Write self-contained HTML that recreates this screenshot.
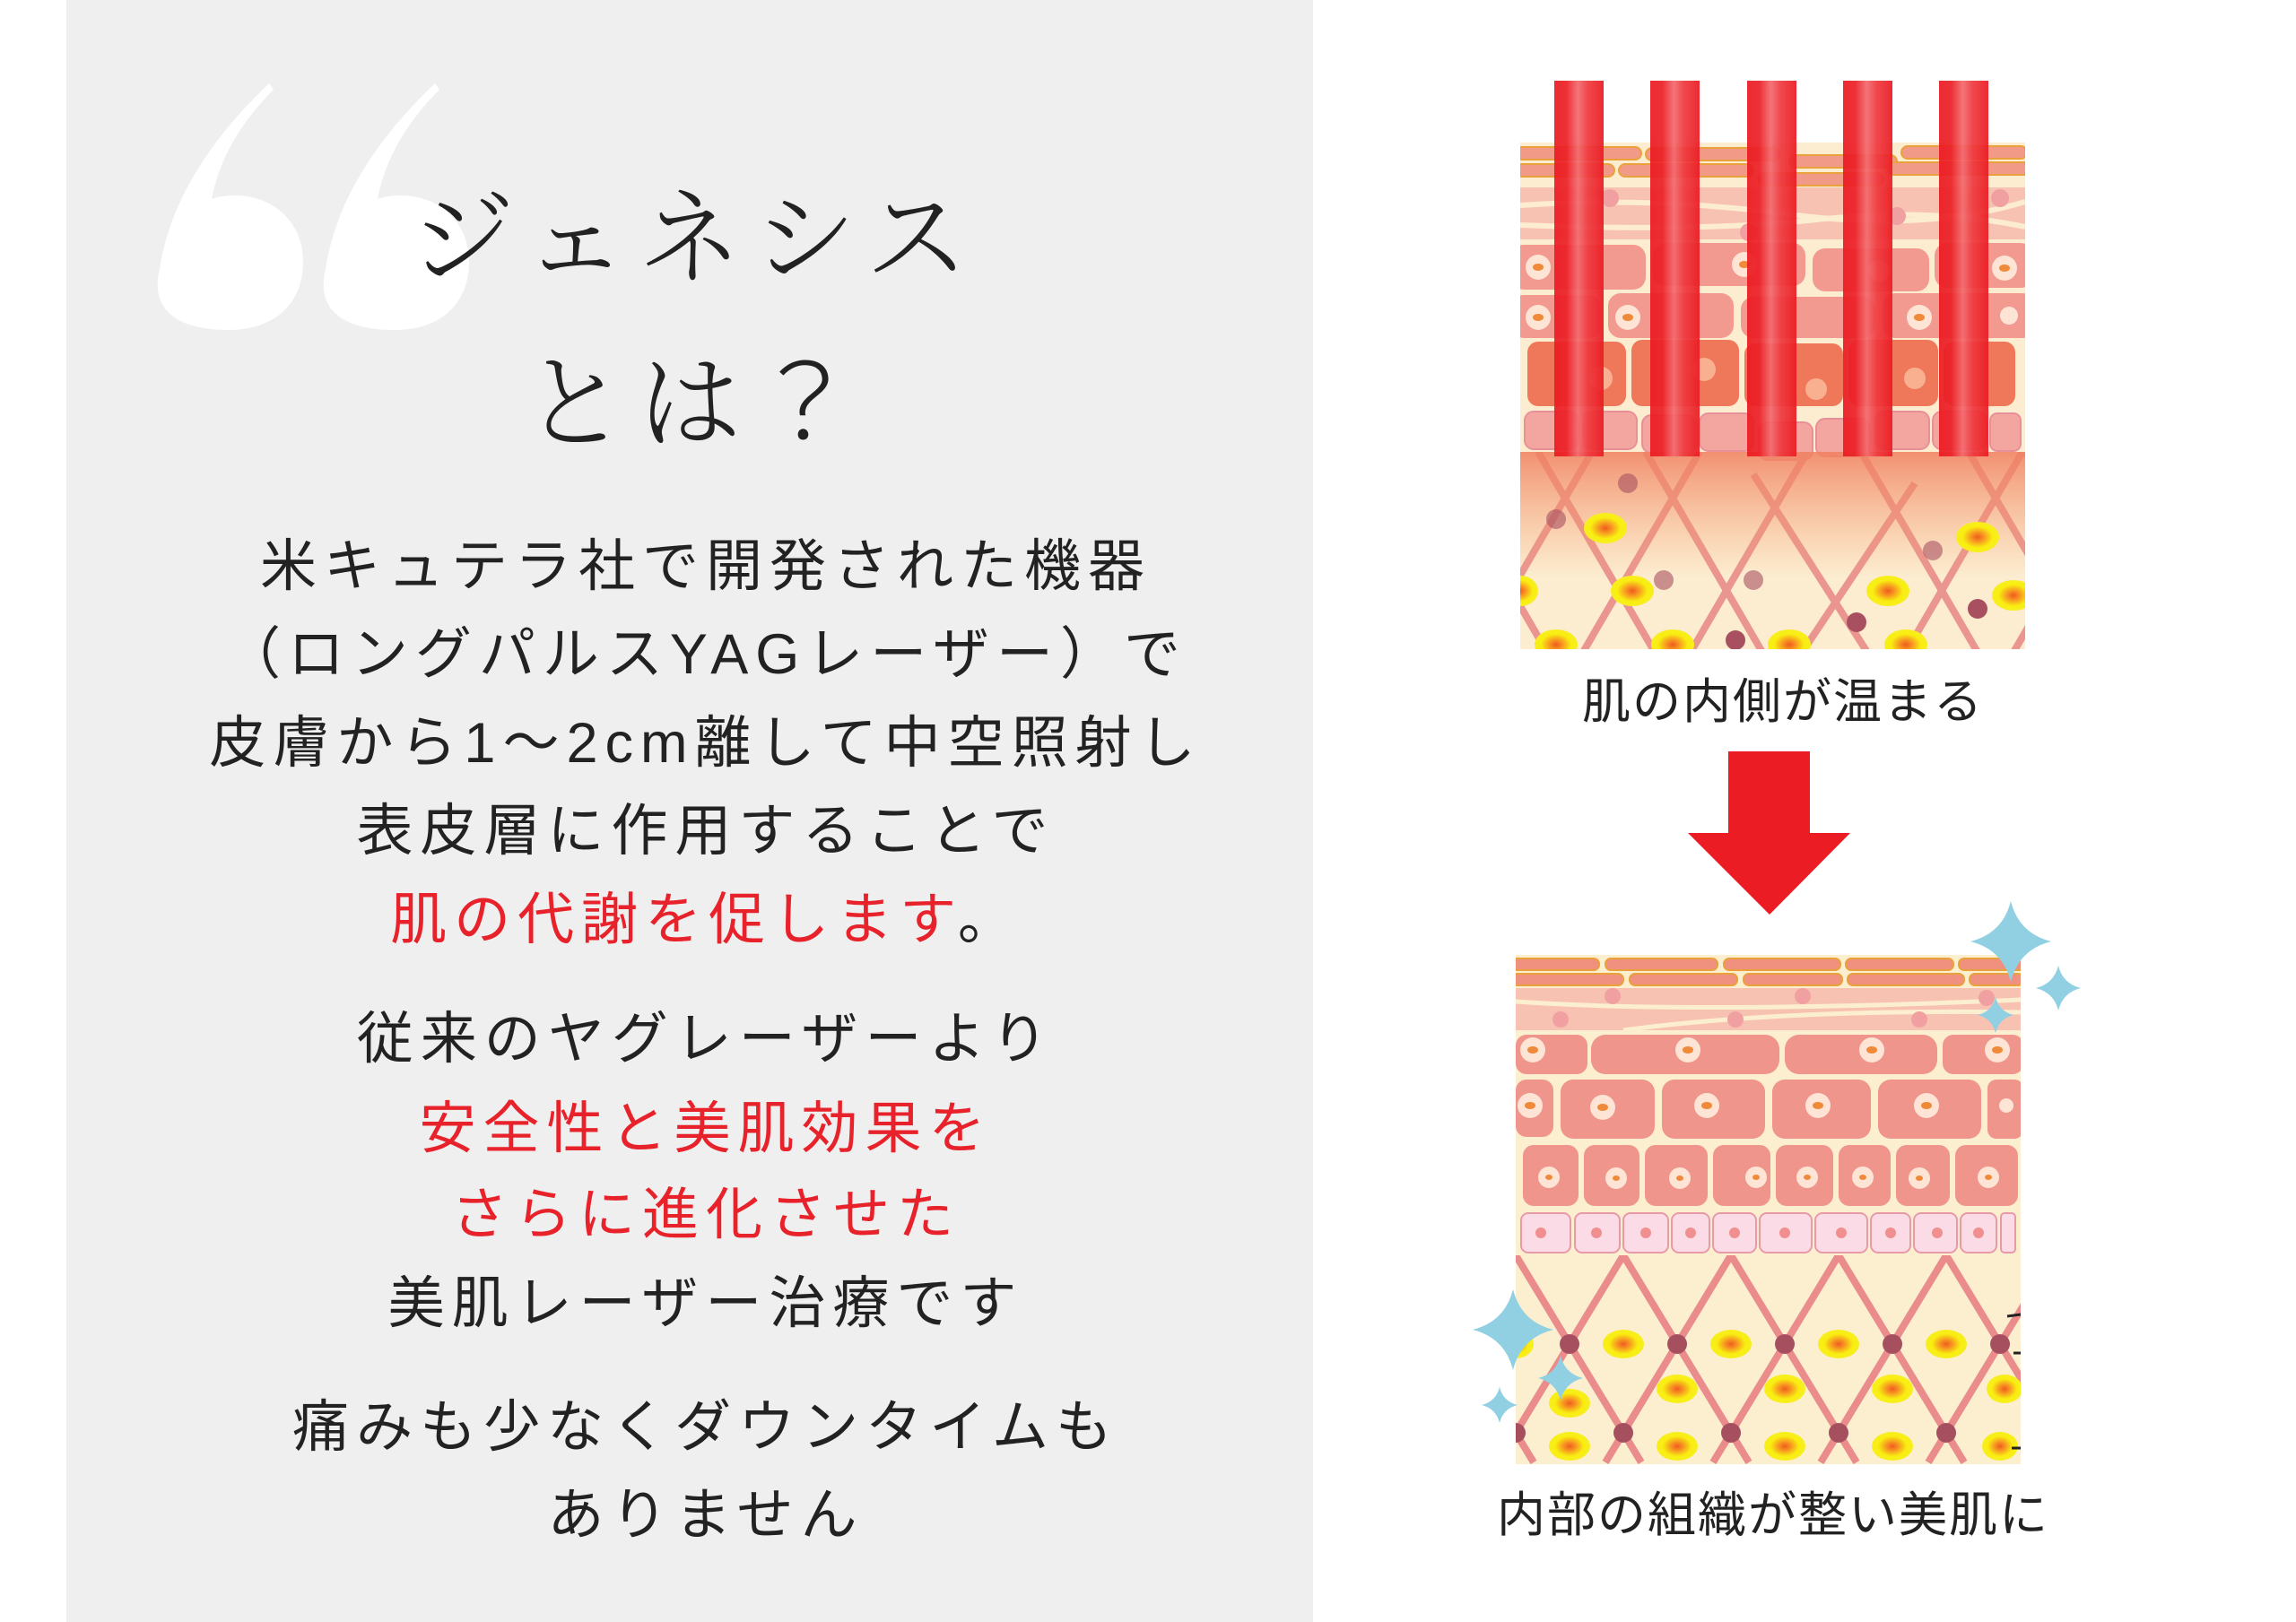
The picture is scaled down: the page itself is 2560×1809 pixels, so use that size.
<!DOCTYPE html>
<html><head><meta charset="utf-8">
<style>
html,body{margin:0;padding:0;}
body{width:2560px;height:1809px;position:relative;background:#fff;overflow:hidden;font-family:"Liberation Sans","Noto Sans CJK JP",sans-serif;}
#panel{position:absolute;left:74px;top:0;width:1390px;height:1809px;background:#efefef;}
.t{position:absolute;left:0;width:1574px;text-align:center;white-space:nowrap;}
.title{font-family:"Noto Serif CJK SC","Noto Serif CJK JP",serif;font-size:116px;letter-spacing:12px;color:#222;height:130px;line-height:130px;font-weight:300;}
.b{font-size:63px;letter-spacing:8px;color:#222;height:80px;line-height:80px;}
.r{color:#e8222a;}
.bar{position:absolute;top:90px;width:55px;height:419px;background:linear-gradient(90deg,#ea1b22 0%,#ec2128 25%,#f26a6e 48%,#ef3a3f 68%,#ea1b22 100%);opacity:.93;}
.cap{position:absolute;font-size:54px;color:#222;white-space:nowrap;text-align:center;height:70px;line-height:70px;letter-spacing:2px;}
</style></head><body>
<div id="panel"></div>

<svg style="position:absolute;left:0;top:0" width="700" height="420">
<g fill="#fff">
<path d="M300 93 C240 150 190 220 178 300 C168 340 190 368 255 368 C310 368 338 335 338 292 C338 248 305 218 262 218 C250 218 240 220 236 222 C245 175 270 135 305 100 Z"/>
<path d="M485 93 C425 150 375 220 363 300 C353 340 375 368 440 368 C495 368 523 335 523 292 C523 248 490 218 447 218 C435 218 425 220 421 222 C430 175 455 135 490 100 Z"/>
</g></svg>

<div class="t title" style="top:192px;left:-12px;">ジェネシス</div>
<div class="t title" style="top:375px;left:-12px;">とは<span style="font-family:'Noto Sans CJK JP',sans-serif;font-weight:300;">？</span></div>

<div class="t b" style="top:592px">米キュテラ社で開発された機器</div>
<div class="t b" style="top:690px">（ロングパルスYAGレーザー）で</div>
<div class="t b" style="top:789px">皮膚から1～2cm離して中空照射し</div>
<div class="t b" style="top:887px">表皮層に作用することで</div>
<div class="t b" style="top:986px"><span class="r">肌の代謝を促します</span>。</div>
<div class="t b" style="top:1119px">従来のヤグレーザーより</div>
<div class="t b r" style="top:1219px">安全性と美肌効果を</div>
<div class="t b r" style="top:1315px">さらに進化させた</div>
<div class="t b" style="top:1414px">美肌レーザー治療です</div>
<div class="t b" style="top:1552px">痛みも少なくダウンタイムも</div>
<div class="t b" style="top:1650px">ありません</div>

<svg style="position:absolute;left:1695px;top:159px" width="563" height="565" viewBox="0 0 563 565">
<defs>
<clipPath id="d1"><rect x="0" y="345" width="563" height="220"/></clipPath>
<linearGradient id="g1" x1="0" y1="0" x2="0" y2="1"><stop offset="0" stop-color="#f08060" stop-opacity=".85"/><stop offset="1" stop-color="#f5a070" stop-opacity="0"/></linearGradient>
<radialGradient id="yo"><stop offset="0" stop-color="#f05a20"/><stop offset=".35" stop-color="#f8a020"/><stop offset=".7" stop-color="#f8ee10"/><stop offset="1" stop-color="#f8ee20"/></radialGradient>
</defs>
<rect width="563" height="565" fill="#fcecd0"/>
<g fill="#f29a88" stroke="#e9a23b" stroke-width="2">
<rect x="-5" y="5" width="140" height="14" rx="7"/><rect x="140" y="6" width="150" height="14" rx="7"/><rect x="300" y="14" width="120" height="14" rx="7"/><rect x="425" y="4" width="140" height="14" rx="7"/>
<rect x="-5" y="24" width="110" height="14" rx="7"/><rect x="110" y="24" width="150" height="14" rx="7"/><rect x="265" y="34" width="140" height="14" rx="7"/><rect x="410" y="22" width="160" height="14" rx="7"/>
</g>
<rect x="0" y="50" width="563" height="58" fill="#f8c2b2"/>
<path d="M0 70 Q150 60 300 80 T563 66" stroke="#fcecd0" stroke-width="6" fill="none"/>
<path d="M0 92 Q200 100 330 86 T563 94" stroke="#fcecd0" stroke-width="6" fill="none"/>
<g fill="#f0a0a0"><circle cx="100" cy="62" r="10"/><circle cx="255" cy="100" r="10"/><circle cx="420" cy="82" r="10"/><circle cx="535" cy="62" r="10"/></g>
<g fill="#f29a90">
<rect x="-10" y="114" width="150" height="50" rx="14"/><rect x="148" y="112" width="170" height="48" rx="14"/><rect x="326" y="118" width="130" height="48" rx="14"/><rect x="462" y="112" width="110" height="50" rx="14"/>
<rect x="-10" y="170" width="100" height="48" rx="14"/><rect x="98" y="168" width="140" height="50" rx="14"/><rect x="246" y="172" width="150" height="46" rx="14"/><rect x="404" y="168" width="170" height="50" rx="14"/>
</g>
<g fill="#fde4d4"><circle cx="20" cy="139" r="14"/><circle cx="250" cy="136" r="14"/><circle cx="540" cy="140" r="14"/><circle cx="20" cy="195" r="14"/><circle cx="120" cy="195" r="14"/><circle cx="400" cy="143" r="12"/><circle cx="445" cy="195" r="14"/><circle cx="545" cy="193" r="10"/></g>
<g fill="#ef8a3a"><ellipse cx="20" cy="139" rx="6" ry="4"/><ellipse cx="250" cy="136" rx="6" ry="4"/><ellipse cx="540" cy="140" rx="6" ry="4"/><ellipse cx="20" cy="195" rx="6" ry="4"/><ellipse cx="120" cy="195" rx="6" ry="4"/><ellipse cx="445" cy="195" rx="6" ry="4"/></g>
<g fill="#f0785a">
<rect x="8" y="222" width="110" height="72" rx="12"/><rect x="124" y="220" width="120" height="74" rx="12"/><rect x="250" y="224" width="110" height="70" rx="12"/><rect x="366" y="220" width="100" height="74" rx="12"/><rect x="472" y="222" width="80" height="72" rx="12"/>
</g>
<g fill="#f8b090"><circle cx="90" cy="263" r="13"/><circle cx="205" cy="253" r="13"/><circle cx="330" cy="275" r="12"/><circle cx="440" cy="263" r="12"/></g>
<g fill="#f3a6a0" stroke="#e8909a" stroke-width="2">
<rect x="5" y="300" width="60" height="42" rx="10"/><rect x="70" y="300" width="60" height="42" rx="10"/><rect x="136" y="304" width="60" height="42" rx="10"/><rect x="200" y="302" width="60" height="42" rx="10"/><rect x="266" y="312" width="60" height="42" rx="10"/><rect x="330" y="308" width="60" height="42" rx="10"/><rect x="396" y="300" width="60" height="42" rx="10"/><rect x="460" y="300" width="60" height="42" rx="10"/><rect x="524" y="302" width="34" height="42" rx="8"/>
</g>
<g clip-path="url(#d1)" stroke="#ea9590" stroke-width="8">
<line x1="-100" y1="345" x2="60" y2="620"/><line x1="20" y1="345" x2="180" y2="620"/><line x1="140" y1="345" x2="300" y2="620"/><line x1="260" y1="370" x2="420" y2="620"/><line x1="380" y1="345" x2="540" y2="620"/><line x1="500" y1="345" x2="660" y2="620"/>
<line x1="80" y1="345" x2="-80" y2="620"/><line x1="200" y1="345" x2="40" y2="620"/><line x1="320" y1="345" x2="160" y2="620"/><line x1="440" y1="380" x2="280" y2="620"/><line x1="560" y1="345" x2="400" y2="620"/><line x1="680" y1="345" x2="520" y2="620"/>
</g>
<rect x="0" y="345" width="563" height="140" fill="url(#g1)"/>
<g fill="#a85060"><circle cx="120" cy="380" r="11" opacity=".6"/><circle cx="40" cy="420" r="11" opacity=".6"/><circle cx="160" cy="488" r="11" opacity=".6"/><circle cx="260" cy="488" r="11" opacity=".6"/><circle cx="460" cy="455" r="11" opacity=".6"/><circle cx="375" cy="535" r="11"/><circle cx="510" cy="520" r="11"/><circle cx="240" cy="555" r="11"/></g>
<g fill="url(#yo)"><ellipse cx="95" cy="430" rx="24" ry="17"/><ellipse cx="125" cy="500" rx="24" ry="17"/><ellipse cx="0" cy="500" rx="20" ry="17"/><ellipse cx="40" cy="560" rx="24" ry="17"/><ellipse cx="170" cy="560" rx="24" ry="17"/><ellipse cx="300" cy="560" rx="24" ry="17"/><ellipse cx="410" cy="500" rx="24" ry="17"/><ellipse cx="430" cy="560" rx="24" ry="17"/><ellipse cx="510" cy="440" rx="24" ry="17"/><ellipse cx="550" cy="505" rx="24" ry="17"/></g>
</svg>
<div class="bar" style="left:1733px"></div>
<div class="bar" style="left:1840px"></div>
<div class="bar" style="left:1948px"></div>
<div class="bar" style="left:2055px"></div>
<div class="bar" style="left:2162px"></div>

<div class="cap" style="left:1688px;width:600px;top:748px">肌の内側が温まる</div>

<svg style="position:absolute;left:1870px;top:830px" width="210" height="200">
<polygon points="57,8 148,8 148,99 193,99 103,190 12,99 57,99" fill="#ec1c24"/>
</svg>

<svg style="position:absolute;left:1690px;top:1065px" width="563" height="568" viewBox="0 0 563 568">
<defs>
<clipPath id="d2"><rect x="0" y="335" width="563" height="233"/></clipPath>
<radialGradient id="yo2"><stop offset="0" stop-color="#f05a20"/><stop offset=".35" stop-color="#f8a020"/><stop offset=".7" stop-color="#f8ee10"/><stop offset="1" stop-color="#f8ee20"/></radialGradient>
</defs>
<rect width="563" height="568" fill="#fcefd0"/>
<g fill="#f0907e" stroke="#e9a23b" stroke-width="2">
<rect x="-5" y="4" width="98" height="13" rx="6"/><rect x="100" y="4" width="125" height="13" rx="6"/><rect x="232" y="4" width="130" height="13" rx="6"/><rect x="368" y="4" width="120" height="13" rx="6"/><rect x="494" y="4" width="75" height="13" rx="6"/>
<rect x="-5" y="21" width="125" height="13" rx="6"/><rect x="127" y="21" width="120" height="13" rx="6"/><rect x="254" y="21" width="110" height="13" rx="6"/><rect x="370" y="21" width="130" height="13" rx="6"/><rect x="506" y="21" width="60" height="13" rx="6"/>
</g>
<rect x="0" y="37" width="563" height="47" fill="#f8c2b2"/>
<path d="M0 52 Q200 66 563 50" stroke="#fcefd0" stroke-width="5" fill="none"/>
<path d="M120 84 Q300 60 563 64" stroke="#fcefd0" stroke-width="5" fill="none"/>
<g fill="#f0a0a0"><circle cx="108" cy="46" r="9"/><circle cx="320" cy="46" r="9"/><circle cx="525" cy="48" r="9"/><circle cx="50" cy="72" r="9"/><circle cx="245" cy="72" r="9"/><circle cx="450" cy="72" r="9"/></g>
<g fill="#f0958c">
<rect x="0" y="89" width="80" height="44" rx="12"/><rect x="84" y="89" width="210" height="44" rx="16"/><rect x="300" y="89" width="170" height="44" rx="16"/><rect x="476" y="89" width="90" height="44" rx="12"/>
<rect x="0" y="139" width="42" height="64" rx="12"/><rect x="50" y="139" width="105" height="66" rx="14"/><rect x="163" y="139" width="115" height="66" rx="14"/><rect x="286" y="139" width="110" height="66" rx="14"/><rect x="404" y="139" width="115" height="66" rx="14"/><rect x="526" y="139" width="40" height="66" rx="10"/>
<rect x="8" y="212" width="62" height="68" rx="12"/><rect x="76" y="212" width="62" height="68" rx="12"/><rect x="144" y="212" width="70" height="68" rx="12"/><rect x="220" y="212" width="64" height="68" rx="12"/><rect x="290" y="212" width="64" height="68" rx="12"/><rect x="360" y="212" width="58" height="68" rx="12"/><rect x="424" y="212" width="60" height="68" rx="12"/><rect x="490" y="212" width="70" height="68" rx="12"/>
</g>
<g fill="#fde4d4"><circle cx="19" cy="106" r="14"/><circle cx="192" cy="106" r="14"/><circle cx="397" cy="106" r="14"/><circle cx="537" cy="106" r="14"/><circle cx="16" cy="168" r="14"/><circle cx="97" cy="170" r="14"/><circle cx="213" cy="168" r="14"/><circle cx="337" cy="168" r="14"/><circle cx="458" cy="168" r="14"/><circle cx="547" cy="168" r="8"/><circle cx="37" cy="248" r="12"/><circle cx="112" cy="249" r="12"/><circle cx="183" cy="249" r="12"/><circle cx="268" cy="248" r="12"/><circle cx="325" cy="248" r="12"/><circle cx="387" cy="248" r="12"/><circle cx="450" cy="249" r="12"/><circle cx="527" cy="248" r="12"/></g>
<g fill="#ef8a3a"><ellipse cx="19" cy="106" rx="6" ry="4"/><ellipse cx="192" cy="106" rx="6" ry="4"/><ellipse cx="397" cy="106" rx="6" ry="4"/><ellipse cx="537" cy="106" rx="6" ry="4"/><ellipse cx="16" cy="168" rx="6" ry="4"/><ellipse cx="97" cy="170" rx="6" ry="4"/><ellipse cx="213" cy="168" rx="6" ry="4"/><ellipse cx="337" cy="168" rx="6" ry="4"/><ellipse cx="458" cy="168" rx="6" ry="4"/><ellipse cx="37" cy="248" rx="4" ry="3"/><ellipse cx="112" cy="249" rx="4" ry="3"/><ellipse cx="183" cy="249" rx="4" ry="3"/><ellipse cx="268" cy="248" rx="4" ry="3"/><ellipse cx="325" cy="248" rx="4" ry="3"/><ellipse cx="387" cy="248" rx="4" ry="3"/><ellipse cx="450" cy="249" rx="4" ry="3"/><ellipse cx="527" cy="248" rx="4" ry="3"/></g>
<g fill="#fadbe6" stroke="#e89aa8" stroke-width="2">
<rect x="6" y="288" width="55" height="44" rx="8"/><rect x="66" y="288" width="50" height="44" rx="8"/><rect x="120" y="288" width="50" height="44" rx="8"/><rect x="174" y="288" width="42" height="44" rx="8"/><rect x="220" y="288" width="48" height="44" rx="8"/><rect x="272" y="288" width="58" height="44" rx="8"/><rect x="334" y="288" width="58" height="44" rx="8"/><rect x="396" y="288" width="44" height="44" rx="8"/><rect x="444" y="288" width="48" height="44" rx="8"/><rect x="496" y="288" width="40" height="44" rx="8"/><rect x="541" y="288" width="16" height="44" rx="4"/>
</g>
<g fill="#ef8f8f"><circle cx="28" cy="310" r="6"/><circle cx="90" cy="310" r="6"/><circle cx="145" cy="310" r="6"/><circle cx="195" cy="310" r="6"/><circle cx="244" cy="310" r="6"/><circle cx="300" cy="310" r="6"/><circle cx="363" cy="310" r="6"/><circle cx="418" cy="310" r="6"/><circle cx="470" cy="310" r="6"/><circle cx="516" cy="310" r="6"/></g>
<g clip-path="url(#d2)" stroke="#eb8c8c" stroke-width="8">
<line x1="-240" y1="335" x2="-100" y2="566"/><line x1="-120" y1="335" x2="20" y2="566"/><line x1="0" y1="335" x2="140" y2="566"/><line x1="120" y1="335" x2="260" y2="566"/><line x1="240" y1="335" x2="380" y2="566"/><line x1="360" y1="335" x2="500" y2="566"/><line x1="480" y1="335" x2="620" y2="566"/><line x1="600" y1="335" x2="740" y2="566"/>
<line x1="0" y1="335" x2="-140" y2="566"/><line x1="120" y1="335" x2="-20" y2="566"/><line x1="240" y1="335" x2="100" y2="566"/><line x1="360" y1="335" x2="220" y2="566"/><line x1="480" y1="335" x2="340" y2="566"/><line x1="600" y1="335" x2="460" y2="566"/><line x1="720" y1="335" x2="580" y2="566"/><line x1="840" y1="335" x2="700" y2="566"/>
</g>
<g fill="#a64f5e"><circle cx="60" cy="434" r="11"/><circle cx="180" cy="434" r="11"/><circle cx="300" cy="434" r="11"/><circle cx="420" cy="434" r="11"/><circle cx="540" cy="434" r="11"/><circle cx="0" cy="533" r="11"/><circle cx="120" cy="533" r="11"/><circle cx="240" cy="533" r="11"/><circle cx="360" cy="533" r="11"/><circle cx="480" cy="533" r="11"/></g>
<g fill="url(#yo2)"><ellipse cx="120" cy="434" rx="23" ry="16"/><ellipse cx="240" cy="434" rx="23" ry="16"/><ellipse cx="360" cy="434" rx="23" ry="16"/><ellipse cx="480" cy="434" rx="23" ry="16"/><ellipse cx="0" cy="434" rx="20" ry="16"/><ellipse cx="60" cy="500" rx="23" ry="16"/><ellipse cx="180" cy="484" rx="23" ry="16"/><ellipse cx="300" cy="484" rx="23" ry="16"/><ellipse cx="420" cy="484" rx="23" ry="16"/><ellipse cx="545" cy="484" rx="20" ry="16"/><ellipse cx="60" cy="548" rx="23" ry="16"/><ellipse cx="180" cy="548" rx="23" ry="16"/><ellipse cx="300" cy="548" rx="23" ry="16"/><ellipse cx="420" cy="548" rx="23" ry="16"/><ellipse cx="540" cy="548" rx="20" ry="16"/></g>
</svg>

<svg style="position:absolute;left:0;top:0" width="2560" height="1809">
<g fill="#90d0e2">
<path d="M2242 1005 Q2251 1041 2287 1050 Q2251 1059 2242 1095 Q2233 1059 2197 1050 Q2233 1041 2242 1005Z"/>
<path d="M2295 1077 Q2300 1097 2320 1102 Q2300 1107 2295 1127 Q2290 1107 2270 1102 Q2290 1097 2295 1077Z"/>
<path d="M2225 1112 Q2229 1128 2245 1132 Q2229 1136 2225 1152 Q2221 1136 2205 1132 Q2221 1128 2225 1112Z"/>
<path d="M1687 1438 Q1696 1474 1732 1483 Q1696 1492 1687 1528 Q1678 1492 1642 1483 Q1678 1474 1687 1438Z"/>
<path d="M1740 1512 Q1745 1532 1765 1537 Q1745 1542 1740 1562 Q1735 1542 1715 1537 Q1735 1532 1740 1512Z"/>
<path d="M1672 1547 Q1676 1563 1692 1567 Q1676 1571 1672 1587 Q1668 1571 1652 1567 Q1668 1563 1672 1547Z"/>
</g>
<g stroke="#222" stroke-width="3"><line x1="2238" y1="1468" x2="2253" y2="1466"/><line x1="2245" y1="1509" x2="2253" y2="1509"/><line x1="2243" y1="1615" x2="2253" y2="1615"/></g>
</svg>

<div class="cap" style="left:1655px;width:644px;top:1655px">内部の組織が整い美肌に</div>
</body></html>
